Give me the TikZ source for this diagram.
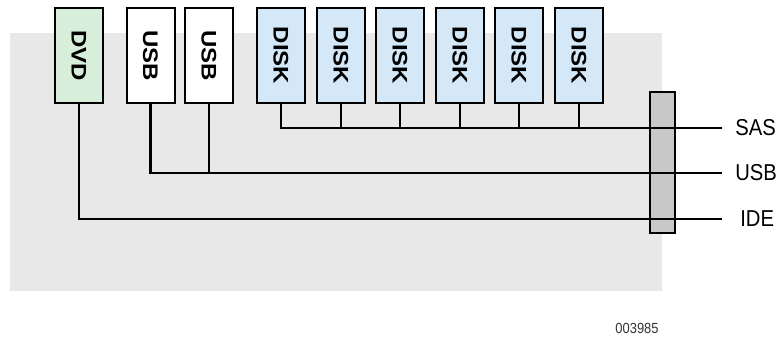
\documentclass[tikz,border=0pt]{standalone}
\usepackage{fontspec}
\usepackage{graphicx}
\setmainfont{Liberation Sans}
\definecolor{bgray}{HTML}{E8E8E8}
\definecolor{bargray}{HTML}{C8C8C8}
\definecolor{dvdgreen}{HTML}{D6EEDA}
\definecolor{diskblue}{HTML}{D4E8F8}
\tikzset{
  devbox/.style={draw=black, line width=1.5pt, minimum width=36pt, minimum height=71.25pt, inner sep=0pt},
  bus/.style={line width=1.9pt, black},
  buslabel/.style={anchor=west, inner sep=0pt, font=\fontsize{17.25}{17.25}\selectfont},
}
\newcommand{\vlab}[1]{\rotatebox{-90}{\scalebox{1}[0.88]{\fontsize{18}{18}\selectfont\bfseries #1}}}
\newcommand{\hlab}[1]{\scalebox{0.88}[1]{#1}}
\begin{document}
\begin{tikzpicture}[x=0.75pt, y=-0.75pt]
\useasboundingbox (0,0) rectangle (781,341);
\fill[bgray] (10,33) rectangle (662,291);
% devices
\node[devbox, fill=dvdgreen] (dvd) at (79,55.5) {\vlab{DVD}};
\node[devbox, fill=white] (usb1) at (150.5,55.5) {\vlab{USB}};
\node[devbox, fill=white] (usb2) at (209,55.5) {\vlab{USB}};
\foreach \i/\x in {1/281,2/341,3/400,4/460,5/519,6/579}{
  \node[devbox, fill=diskblue] (d\i) at (\x,55.5) {\vlab{DISK}};
}
% connector bar
\node[draw=black, line width=1.2pt, fill=bargray, minimum width=18.75pt, minimum height=105.75pt, inner sep=0pt] (bar) at (662.5,162.5) {};
% bus ends and labels
\coordinate (sasend) at (722,128);
\coordinate (usbend) at (722,173);
\coordinate (ideend) at (722,219);
\node[buslabel] (sas) at (735,128) {\hlab{SAS}};
\node[buslabel] (usb) at (735,173) {\hlab{USB}};
\node[buslabel] (ide) at (740,219) {\hlab{IDE}};
% buses
\draw[bus] (d1.south) |- (sasend);
\foreach \i in {2,...,6}{ \draw[bus] (d\i.south) -- (d\i.south |- sasend); }
\draw[bus] (usb1.south) |- (usbend);
\draw[bus] (usb2.south) -- (usb2.south |- usbend);
\draw[bus] (dvd.south) |- (ideend);
% figure number
\node[inner sep=0pt, text=black!80, font=\fontsize{11}{11}\selectfont] (fig) at (637,328) {\scalebox{0.88}[1]{003985}};
\end{tikzpicture}
\end{document}
